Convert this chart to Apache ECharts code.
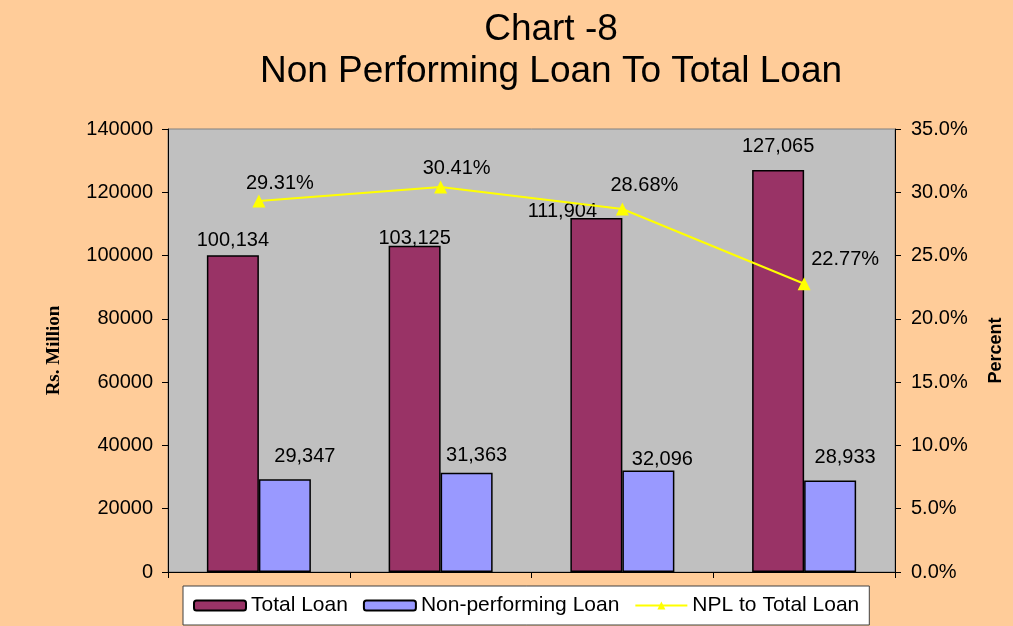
<!DOCTYPE html>
<html lang="en">
<head>
    <meta charset="UTF-8">
    <title>Chart -8</title>
    <script src="https://cdn.jsdelivr.net/npm/echarts@6/dist/echarts.min.js"></script>
    <style>
        body { margin: 0; padding: 0; overflow: hidden; background: #FFCC99; }
    </style>
</head>
<body>
    <div id="main" style="width: 1013px;height:626px;"></div>
<script>
    var categories = ['1', '2', '3', '4'];
    var totalLoan = [100134, 103125, 111904, 127065];
    var nplLoan = [29347, 31363, 32096, 28933];
    var nplRatio = [29.31, 30.41, 28.68, 22.77];   // percent
    var leftTicks = { min: 0, max: 140000, step: 20000 };
    var rightTicks = { min: 0, max: 35, step: 5 };

    // label nudges, Excel had them dragged by hand
    var totalOff = [[0, 0], [0, 8], [-34, 9], [0, -8]];
    var nplOff = [[20, -8], [10, -2], [14, 4], [15, -8]];
    var ratioOff = [[21, 4], [16, 3], [22, -2], [41, -3]];

    var font = 'Liberation Sans, Arial, sans-serif';

    function comma(v) {
        return String(v).replace(/\B(?=(\d{3})+(?!\d))/g, ',');
    }
    function withOffsets(vals, offs) {
        return vals.map(function (v, i) {
            return { value: v, label: { offset: offs[i] } };
        });
    }

    var app = echarts.init(document.getElementById('main'));
    var option = {
        backgroundColor: '#FFCC99',
        animation: false,
        title: {
            text: 'Chart -8\nNon Performing Loan To Total Loan',
            left: 551,
            top: 9,
            padding: 0,
            textAlign: 'center',
            textStyle: {
                fontFamily: font,
                fontSize: 37,
                fontWeight: 'normal',
                color: '#000',
                lineHeight: 42
            }
        },
        legend: {
            left: 183,
            top: 586,
            padding: [9, 10, 9, 10],
            itemGap: 15,
            itemWidth: 52,
            itemHeight: 10,
            backgroundColor: '#fff',
            borderColor: '#404040',
            borderWidth: 1,
            borderRadius: 0,
            textStyle: { fontFamily: font, fontSize: 21, color: '#000' },
            data: ['Total Loan', 'Non-performing Loan', 'NPL to Total Loan']
        },
        grid: {
            left: 168,
            right: 116,
            top: 129,
            bottom: 54,
            show: true,
            backgroundColor: '#C0C0C0',
            borderColor: '#808080',
            borderWidth: 1
        },
        xAxis: {
            type: 'category',
            data: categories,
            axisLine: { lineStyle: { color: '#000', width: 1 } },
            axisTick: { show: true, length: 6, lineStyle: { color: '#000' } },
            axisLabel: { show: false }
        },
        yAxis: [{
            type: 'value',
            min: leftTicks.min,
            max: leftTicks.max,
            interval: leftTicks.step,
            name: 'Rs. Million',
            nameLocation: 'middle',
            nameGap: 104,
            nameRotate: 90,
            nameTextStyle: {
                fontFamily: 'Liberation Serif, Times New Roman, serif',
                fontWeight: 'bold',
                fontSize: 19,
                color: '#000'
            },
            axisLine: { show: true, lineStyle: { color: '#000' } },
            axisTick: { show: true, length: 6, lineStyle: { color: '#000' } },
            axisLabel: {
                fontFamily: font, fontSize: 20, color: '#000', margin: 15,
                formatter: function (v) { return String(v); }
            },
            splitLine: { show: false }
        }, {
            type: 'value',
            position: 'right',
            min: rightTicks.min,
            max: rightTicks.max,
            interval: rightTicks.step,
            name: 'Percent',
            nameLocation: 'middle',
            nameGap: 92,
            nameRotate: 90,
            nameTextStyle: {
                fontFamily: font,
                fontWeight: 'bold',
                fontSize: 18,
                color: '#000'
            },
            axisLine: { show: true, lineStyle: { color: '#000' } },
            axisTick: { show: true, length: 6, lineStyle: { color: '#000' } },
            axisLabel: {
                fontFamily: font, fontSize: 20, color: '#000', margin: 16,
                formatter: function (v) { return v.toFixed(1) + '%'; }
            },
            splitLine: { show: false }
        }],
        series: [{
            name: 'Total Loan',
            type: 'bar',
            barWidth: 52,
            barGap: '0%',
            data: withOffsets(totalLoan, totalOff),
            itemStyle: { color: '#993366', borderColor: '#000', borderWidth: 1.5 },
            label: {
                show: true,
                position: 'top',
                distance: 5,
                fontFamily: font,
                fontSize: 20,
                color: '#000',
                formatter: function (p) { return comma(p.value); }
            }
        }, {
            name: 'Non-performing Loan',
            type: 'bar',
            barWidth: 52,
            barGap: '0%',
            data: withOffsets(nplLoan, nplOff),
            itemStyle: { color: '#9999FF', borderColor: '#000', borderWidth: 1.5 },
            label: {
                show: true,
                position: 'top',
                distance: 5,
                fontFamily: font,
                fontSize: 20,
                color: '#000',
                formatter: function (p) { return comma(p.value); }
            }
        }, {
            name: 'NPL to Total Loan',
            type: 'line',
            yAxisIndex: 1,
            data: withOffsets(nplRatio, ratioOff),
            symbol: 'triangle',
            symbolSize: 13,
            lineStyle: { color: '#FFFF00', width: 2 },
            itemStyle: { color: '#FFFF00' },
            label: {
                show: true,
                position: 'top',
                distance: 5,
                fontFamily: font,
                fontSize: 20,
                color: '#000',
                formatter: function (p) { return p.value.toFixed(2) + '%'; }
            }
        }]
    };
    app.setOption(option);
</script>
</body>
</html>
